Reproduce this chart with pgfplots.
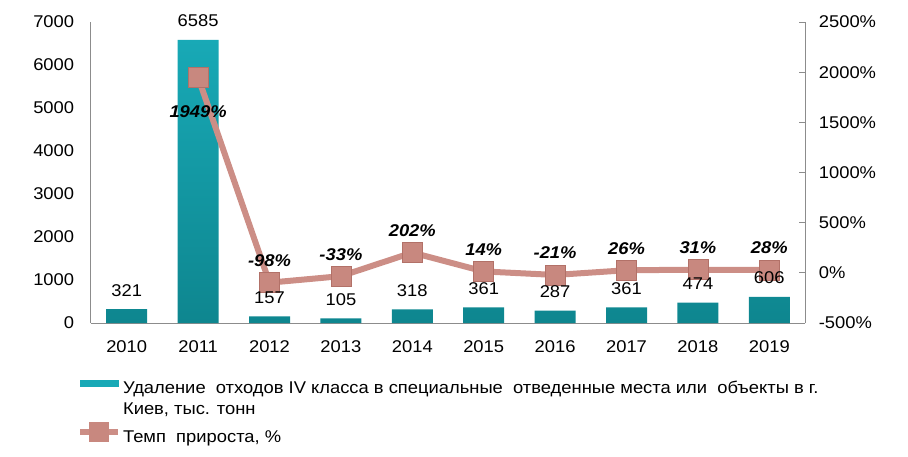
\documentclass[border=0pt]{standalone}
\usepackage{fontspec}
\setmainfont[FakeStretch=1.08]{Liberation Sans}
\usepackage{pgfplots}
\pgfplotsset{compat=1.18}
\definecolor{barlight}{HTML}{18A9B6}
\definecolor{bardark}{HTML}{0E868F}
\definecolor{linec}{HTML}{CC8E86}
\definecolor{markc}{HTML}{C8887F}
\definecolor{markb}{HTML}{B27168}
\definecolor{axisgray}{HTML}{8C8C8C}
\newcommand{\fs}{\fontsize{17}{20}\selectfont}
\pgfplotstableread{
x y
0 321
1 6585
2 157
3 105
4 318
5 361
6 287
7 361
8 474
9 606
}\bardata
\begin{document}
\fs
\begin{tikzpicture}
\begin{axis}[
  at={(0,0)}, anchor=south west,
  scale only axis, width=714pt, height=301pt,
  xmin=-0.5, xmax=9.5, ymin=0, ymax=7000,
  axis x line*=bottom, axis y line*=left,
  axis line style={-, draw=axisgray, line width=1pt},
  xtick={0,...,9},
  xticklabels={2010,2011,2012,2013,2014,2015,2016,2017,2018,2019},
  ytick={0,1000,...,7000},
  major tick length=0pt,
  /pgf/number format/assume math mode=true,
  /pgf/number format/1000 sep={},
  tick label style={font=\fs, text=black},
  xticklabel style={yshift=-12pt},
  yticklabel style={xshift=-11pt},
  ybar, bar width=41pt,
]
\addplot[draw=none, top color=barlight, bottom color=bardark] table[x=x, y=y] {\bardata};
\end{axis}
\begin{axis}[
  at={(0,0)}, anchor=south west,
  scale only axis, width=714pt, height=301pt,
  xmin=-0.5, xmax=9.5, ymin=-500, ymax=2500,
  axis x line=none, axis y line*=right,
  axis line style={-, draw=axisgray, line width=1pt},
  ytick={-500,0,...,2500},
  yticklabel={\pgfmathprintnumber{\tick}\%},
  /pgf/number format/assume math mode=true,
  /pgf/number format/1000 sep={},
  ytick style={draw=axisgray, line width=1pt},
  major tick length=6pt, tick align=inside,
  tick label style={font=\fs, text=black},
  yticklabel style={xshift=8pt},
  legend style={at={(axis description cs:-0.024,-0.18)}, anchor=north west,
    draw=none, fill=none, font=\fs,
    row sep=2.5pt, column sep=0pt},
  legend cell align=left,
]
\addlegendimage{legend image code/.code={\fill[barlight] (0pt,3pt) rectangle (38pt,9pt);}}
\addlegendentry{Удаление\ \ отходов IV класса в специальные\ \ отведенные места или\ \ объекты в г.}
\addlegendimage{empty legend}
\addlegendentry{Киев, тыс. тонн}
\addplot[linec, line width=6pt, mark=square*, mark size=10pt,
  mark options={fill=markc, draw=markb, line width=0.8pt},
  legend image code/.code={\draw[linec, line width=6pt] (0pt,6pt)--(38pt,6pt);
     \fill[markc] (12pt,-1pt) rectangle (26pt,13pt);}]
  coordinates {(1,1949) (2,-98) (3,-33) (4,202) (5,14) (6,-21) (7,26) (8,31) (9,28)};
\addlegendentry{Темп\ \ прироста, \%}
\addplot[only marks, mark=none, point meta=explicit symbolic, nodes near coords,
  nodes near coords style={font=\fs\bfseries\itshape, text=black, anchor=south, yshift=10pt}]
  coordinates {(2,-98)[-98\%] (3,-33)[-33\%] (4,202)[202\%] (5,14)[14\%] (6,-21)[-21\%] (7,26)[26\%] (8,31)[31\%] (9,28)[28\%]};
\addplot[only marks, mark=none, point meta=explicit symbolic, nodes near coords,
  nodes near coords style={font=\fs\bfseries\itshape, text=black, anchor=north, yshift=-22pt}]
  coordinates {(1,1949)[1949\%]};
\end{axis}
\begin{axis}[
  at={(0,0)}, anchor=south west,
  scale only axis, width=714pt, height=301pt,
  xmin=-0.5, xmax=9.5, ymin=0, ymax=7000,
  hide axis,
  /pgf/number format/assume math mode=true,
  /pgf/number format/1000 sep={},
]
\addplot[only marks, mark=none, nodes near coords,
  nodes near coords style={font=\fs, text=black, anchor=south, yshift=7pt}]
  table[x=x, y=y] {\bardata};
\end{axis}
\pgfresetboundingbox
\path (-91pt,-133pt) rectangle (817pt,323pt);
\end{tikzpicture}
\end{document}
